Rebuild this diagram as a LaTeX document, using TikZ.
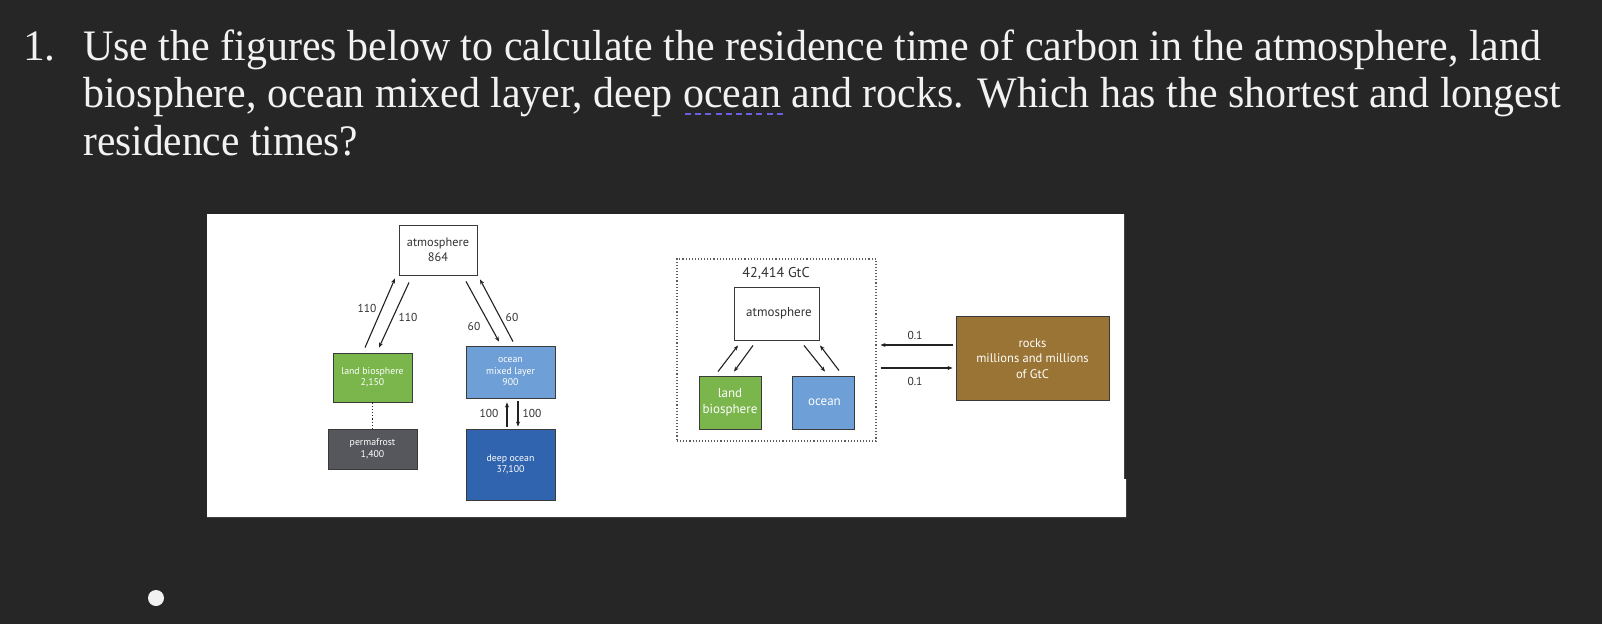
\documentclass[tikz,border=0pt]{standalone}
\usepackage{fontspec}
\setmainfont{Liberation Serif}
\newfontfamily\dg{PT Sans}
\usetikzlibrary{arrows.meta}
\definecolor{bg}{HTML}{262626}
\definecolor{titlec}{HTML}{F2F2F2}
\definecolor{ulc}{HTML}{6B5FE0}
\definecolor{boxline}{HTML}{3A3A3A}
\definecolor{arrowc}{HTML}{222222}
\definecolor{labc}{HTML}{333333}
\definecolor{landg}{HTML}{7AB64C}
\definecolor{oceanl}{HTML}{6E9FD6}
\definecolor{oceand}{HTML}{3064AE}
\definecolor{permg}{HTML}{55575C}
\definecolor{rockb}{HTML}{9A7434}
\begin{document}
\begin{tikzpicture}[x=1pt,y=-1pt,
  titletext/.style={anchor=base west, inner sep=0pt, text=titlec, font=\fontsize{43.5}{47}\selectfont},
  box/.style={draw=boxline, line width=0.9pt, inner sep=0pt, align=center, text=white, font=\dg\fontsize{9.8}{11.5}\selectfont},
  bigbox/.style={box, font=\dg\fontsize{13}{16}\selectfont},
  flow/.style={draw=arrowc, line width=1.1pt, -{Stealth[length=5pt,width=4pt]}},
  lbl/.style={font=\dg\fontsize{11.5}{13}\selectfont, text=labc, inner sep=0pt},
]
\useasboundingbox (0,0) rectangle (1602,624);
\fill[bg] (0,0) rectangle (1602,624);

% question text
\node[titletext] (num) at (23,60) {1.};
\node[titletext] (l1) at (83,60) {\resizebox{1458pt}{\height}{Use the figures below to calculate the residence time of carbon in the atmosphere, land}};
\node[titletext] (l2) at (83,107) {\resizebox{1478pt}{\height}{biosphere, ocean mixed layer, deep ocean and rocks. Which has the shortest and longest}};
\node[titletext] (l3) at (83,155) {\resizebox{275pt}{\height}{residence times?}};
\draw[ulc, line width=2.5pt, dash pattern=on 6pt off 4.2pt] (685,114) -- (783,114);

% bullet
\fill[titlec] (156,598) circle (8);

% white panel
\fill[white] (207,214) -- (1124,214) -- (1124,479) -- (1126,479) -- (1126,517) -- (207,517) -- cycle;

% ---------- left diagram ----------
\node[box, text=labc, font=\dg\fontsize{12.3}{15}\selectfont, fill=white, minimum width=78pt, minimum height=50pt] (atm1) at (438,250) {atmosphere\\864};
\node[box, fill=landg, minimum width=79pt, minimum height=49pt] (land1) at (372.5,377.5) {land biosphere\\2,150};
\node[box, fill=oceanl, minimum width=89pt, minimum height=52pt] (ocm) at (510.5,372) {ocean\\mixed layer\\900};
\node[box, fill=permg, minimum width=89pt, minimum height=40pt] (perm) at (372.5,449) {permafrost\\1,400};
\node[box, fill=oceand, minimum width=89pt, minimum height=71pt] (deep) at (510.5,464.5) {deep ocean\\37,100};

\draw[flow] ([shift={(-7.5,-5)}]land1.north) -- ([shift={(-43,3)}]atm1.south);
\draw[flow] ([shift={(-29,7)}]atm1.south) -- ([shift={(6.5,-5)}]land1.north);
\draw[flow] ([shift={(28,6)}]atm1.south) -- ([shift={(-11.5,-4)}]ocm.north);
\draw[flow] ([shift={(2.5,-4)}]ocm.north) -- ([shift={(42,4)}]atm1.south);
\draw[flow] ([shift={(-3.5,-2)}]deep.north) -- ([shift={(-3.5,4)}]ocm.south);
\draw[flow] ([shift={(7.5,3)}]ocm.south) -- ([shift={(7.5,-2)}]deep.north);
\draw[arrowc, line width=1.2pt, dotted] (land1.south) -- (perm.north);

\node[lbl] (t110a) at (367,308) {110};
\node[lbl] (t110b) at (408,317) {110};
\node[lbl] (t60a) at (474,326) {60};
\node[lbl] (t60b) at (512,317) {60};
\node[lbl] (t100a) at (489,413) {100};
\node[lbl] (t100b) at (532,413) {100};

% ---------- right diagram ----------
\node[draw=labc!80, line width=1.1pt, dotted, minimum width=199pt, minimum height=182pt, inner sep=0pt] (frame) at (776.5,350) {};
\node[lbl, font=\dg\fontsize{14.2}{16}\selectfont] (total) at (776,273) {42,414 GtC};
\node[bigbox, text=labc, fill=white, minimum width=85pt, minimum height=53pt] (atm2) at (776.5,313.5) {\hspace*{5pt}atmosphere};
\node[bigbox, fill=landg, minimum width=62pt, minimum height=53pt] (land2) at (730,402.5) {land\\biosphere};
\node[bigbox, fill=oceanl, minimum width=62pt, minimum height=53pt] (ocean2) at (823,402.5) {\hspace*{3pt}ocean};

\draw[flow] ([shift={(-12,-4)}]land2.north) -- ([shift={(-38.5,5)}]atm2.south);
\draw[flow] ([shift={(-23.5,5)}]atm2.south) -- ([shift={(4,-4)}]land2.north);
\draw[flow] ([shift={(27.5,5)}]atm2.south) -- ([shift={(2,-4)}]ocean2.north);
\draw[flow] ([shift={(16,-5)}]ocean2.north) -- ([shift={(43.5,5)}]atm2.south);

\node[bigbox, fill=rockb, font=\dg\fontsize{12.5}{15.5}\selectfont, minimum width=153pt, minimum height=84pt] (rocks) at (1032.5,358) {\\[-6pt]rocks\\millions and millions\\of GtC};

\draw[flow] ([shift={(-3,-13)}]rocks.west) -- ([shift={(4,-5)}]frame.east);
\draw[flow] ([shift={(4,18)}]frame.east) -- ([shift={(-3,10)}]rocks.west);
\node[lbl] (r1) at (915,335) {0.1};
\node[lbl] (r2) at (915,381) {0.1};
\end{tikzpicture}
\end{document}
